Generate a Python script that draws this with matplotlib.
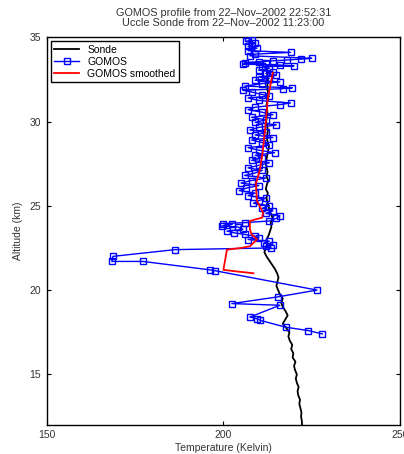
import matplotlib
matplotlib.use("Agg")
import matplotlib.pyplot as plt

plt.rcParams['font.family'] = ['Liberation Sans', 'DejaVu Sans']

# ---- data ----
sonde_alt = [12.0, 12.25, 12.5, 12.75, 13.0, 13.25, 13.5, 13.75, 14.0, 14.25, 14.5, 14.75,
             15.0, 15.25, 15.5, 15.75, 16.0, 16.25, 16.5, 16.75, 17.0, 17.25, 17.5, 17.75,
             18.0, 18.25, 18.5, 18.75, 19.0, 19.25, 19.5, 19.75, 20.0, 20.25, 20.5, 20.75,
             21.0, 21.25, 21.5, 21.75, 22.0, 22.25, 22.5, 22.75, 23.0, 23.25, 23.5, 23.75,
             24.0, 24.25, 24.5, 24.75, 25.0, 25.25, 25.5, 25.75, 26.0, 26.25, 26.5, 26.75,
             27.0, 27.5, 28.0, 28.5, 29.0, 29.5, 30.0, 30.5, 31.0, 31.5, 32.0, 32.5, 33.0, 33.2]
sonde_T = [222.3, 222.2, 222.0, 222.1, 221.8, 221.5, 221.7, 221.2, 221.0, 221.3, 220.8, 220.5,
           220.8, 220.3, 220.0, 220.4, 219.6, 219.8, 219.2, 219.5, 218.8, 218.4, 218.7, 217.8,
           216.8, 217.5, 218.2, 217.6, 216.8, 216.4, 216.8, 216.0, 215.5, 215.0, 215.3, 215.6,
           215.2, 214.6, 213.8, 213.0, 212.2, 211.6, 212.0, 212.5, 212.2, 212.8, 213.2, 213.6,
           213.4, 214.0, 213.5, 213.0, 212.8, 212.4, 212.2, 212.6, 212.0, 212.3, 212.7, 212.2,
           212.5, 212.0, 212.4, 212.9, 212.3, 212.6, 212.1, 212.5, 212.2, 212.8, 212.4, 212.6,
           212.3, 212.5]

gomos_alt = [34.95, 34.85, 34.75, 34.65, 34.55, 34.45, 34.35, 34.2, 34.1, 34.0, 33.9, 33.75,
             33.7, 33.65, 33.6, 33.55, 33.5, 33.45, 33.4, 33.35, 33.3, 33.25, 33.15, 33.05,
             32.95, 32.85, 32.75, 32.65, 32.55, 32.45, 32.35, 32.25, 32.1, 32.0, 31.95, 31.85,
             31.75, 31.6, 31.5, 31.4, 31.25, 31.1, 31.0, 30.85, 30.7, 30.55, 30.4, 30.25,
             30.1, 29.95, 29.8, 29.65, 29.5, 29.35, 29.2, 29.05, 28.9, 28.75, 28.6, 28.45,
             28.3, 28.15, 28.0, 27.85, 27.7, 27.55, 27.4, 27.25, 27.1, 26.95, 26.8, 26.65,
             26.5, 26.35, 26.2, 26.05, 25.9, 25.75, 25.6, 25.45, 25.3, 25.15, 25.0, 24.85,
             24.7, 24.55, 24.4, 24.25, 24.1, 24.0, 23.95, 23.9, 23.8, 23.75, 23.6, 23.5,
             23.4, 23.3, 23.2, 23.1, 23.0, 22.9, 22.8, 22.7, 22.6, 22.5, 22.4, 22.0,
             21.7, 21.7, 21.2, 21.15, 20.0, 19.6, 19.2, 19.1, 18.4, 18.3, 18.2, 17.8,
             17.6, 17.4]
gomos_T = [207.0, 208.0, 206.5, 209.0, 208.0, 207.0, 209.5, 207.0, 219.0, 209.0, 207.5, 225.0,
           222.0, 218.0, 214.0, 210.0, 206.0, 212.0, 205.5, 216.0, 220.0, 211.0, 213.0, 210.0,
           214.0, 212.0, 215.0, 210.0, 213.0, 209.0, 216.0, 211.0, 206.0, 219.5, 217.0, 205.5,
           208.0, 211.0, 213.0, 207.0, 210.0, 219.0, 216.0, 209.0, 207.0, 211.0, 214.0, 208.0,
           212.0, 209.0, 215.0, 210.0, 207.5, 212.0, 209.0, 214.0, 208.0, 211.0, 213.0, 207.0,
           210.0, 214.5, 209.0, 211.0, 208.0, 213.0, 210.0, 207.0, 211.0, 209.0, 206.0, 212.0,
           208.0, 205.0, 210.0, 206.5, 204.5, 209.0, 207.0, 212.0, 210.0, 208.5, 213.0, 211.0,
           214.0, 212.0, 216.0, 215.0, 213.0, 206.0, 200.0, 202.5, 199.5, 204.0, 205.5, 201.0,
           203.0, 206.0, 209.0, 210.0, 207.0, 213.0, 211.5, 214.0, 212.0, 213.5, 186.3, 168.7,
           168.4, 177.2, 196.2, 197.6, 226.5, 215.5, 202.4, 216.0, 207.5, 209.5, 210.5, 217.6,
           224.0, 228.0]

smooth_alt = [21.0, 21.1, 21.2, 22.4, 22.5, 22.6, 23.0, 23.3, 23.6, 24.1, 24.3, 24.6,
              25.3, 26.3, 27.1, 28.0, 29.5, 31.4, 32.9]
smooth_T = [208.5, 204.0, 200.0, 201.0, 205.0, 207.5, 209.5, 208.0, 207.5, 207.5, 211.0, 211.2,
            209.5, 209.2, 210.3, 211.0, 211.8, 212.6, 214.0]

title_lines = ["GOMOS profile from 22\u2013Nov\u20132002 22:52:31",
               "Uccle Sonde from 22\u2013Nov\u20132002 11:23:00"]
xticks = [150, 200, 250]
yticks = [15, 20, 25, 30, 35]

# ---- figure ----
fig = plt.figure(figsize=(4.04, 4.54), dpi=100)
ax = fig.add_axes([0.116, 0.064, 0.874, 0.854])

ax.plot(sonde_T, sonde_alt, color='black', lw=1.3, label='Sonde', zorder=2)
ax.plot(gomos_T, gomos_alt, color='blue', lw=1.0, marker='s', markersize=5,
        markerfacecolor='none', markeredgecolor='blue', markeredgewidth=1.0,
        label='GOMOS', zorder=3)
ax.plot(smooth_T, smooth_alt, color='red', lw=1.3, label='GOMOS smoothed', zorder=4)

ax.set_xlim(150, 250)
ax.set_ylim(12, 35)
ax.set_xticks(xticks)
ax.set_yticks(yticks)
ax.tick_params(direction='in', length=3, width=0.8, labelsize=7.5, top=True, right=True,
               colors='black', labelcolor='#333333', pad=4)
for s in ax.spines.values():
    s.set_linewidth(1.0)

ax.set_xlabel('Temperature (Kelvin)', fontsize=7.5, labelpad=2, color='#333333')
ax.set_ylabel('Altitude (km)', fontsize=7.5, labelpad=5, color='#333333')
ax.set_title("\n".join(title_lines), fontsize=7.8, pad=8, linespacing=1.05, color='#333333')

leg = ax.legend(loc='upper left', fontsize=7.5, fancybox=False, framealpha=1,
                edgecolor='black', handlelength=2.4, borderpad=0.3, labelspacing=0.2,
                borderaxespad=0.4)
leg.get_frame().set_linewidth(1.0)

fig.savefig('out.png', dpi=100)
